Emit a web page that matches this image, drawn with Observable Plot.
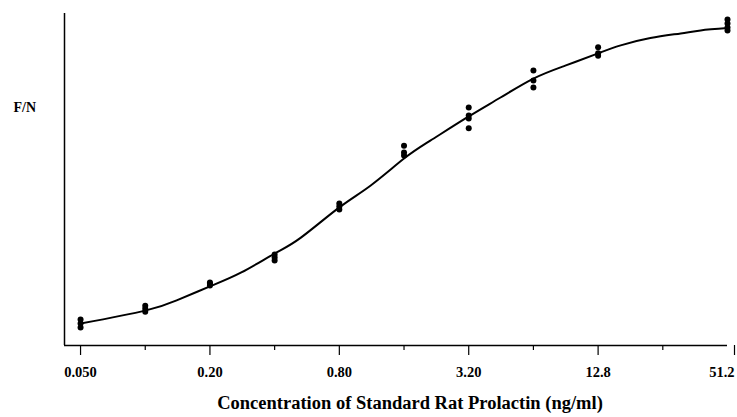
<!DOCTYPE html>
<html>
<head>
<meta charset="utf-8">
<script src="https://cdn.jsdelivr.net/npm/d3@7"></script>
<script src="https://cdn.jsdelivr.net/npm/@observablehq/plot@0.6"></script>
<style>
  html, body { margin: 0; padding: 0; background: #fff; }
  #chart { width: 737px; height: 417px; }
  #chart svg { overflow: visible; }
</style>
</head>
<body>
<div id="chart"></div>
<script>
// Replicate measurements (concentration ng/ml, F/N in arbitrary units)
const pointConc = [0.05, 0.05, 0.05, 0.1, 0.1, 0.1, 0.2, 0.2, 0.2, 0.4, 0.4, 0.4,
  0.8, 0.8, 0.8, 1.6, 1.6, 1.6, 3.2, 3.2, 3.2, 3.2, 6.4, 6.4, 6.4,
  12.8, 12.8, 12.8, 51.2, 51.2, 51.2, 51.2];
const pointFN = [7.8, 6.6, 5.4, 12.0, 11.1, 10.2, 19.0, 18.6, 18.1, 27.4, 26.5, 25.6,
  42.8, 41.9, 41.0, 60.2, 58.1, 57.2, 71.7, 69.3, 68.4, 65.4, 82.8, 79.8, 77.7,
  89.8, 88.0, 87.3, 98.2, 97.0, 95.8, 94.9];

// Fitted standard curve
const curveConc = [0.05, 0.1, 0.14, 0.2, 0.28, 0.4, 0.53, 0.8, 1.12, 1.6, 2.12,
  3.2, 4.5, 6.4, 9.0, 12.8, 16.3, 22.4, 31, 38.4, 51.2];
const curveFN = [6.6, 10.5, 13.6, 17.8, 22.0, 27.7, 32.5, 41.6, 48.2, 56.3, 61.7,
  69.0, 74.7, 80.4, 84.3, 88.0, 90.4, 92.6, 94.0, 94.9, 95.6];

// Axis ticks
const majorTicks = [0.05, 0.2, 0.8, 3.2, 12.8, 51.2];
const majorLabels = ["0.050", "0.20", "0.80", "3.20", "12.8", "51.2"];
const minorTicks = [0.1, 0.4, 1.6, 6.4, 25.6];

const xDomain = [0.0421, 51.2];
const yDomain = [0, 100];

const points = pointConc.map((c, i) => ({c, v: pointFN[i]}));
const curve = curveConc.map((c, i) => ({c, v: curveFN[i]}));
const labelOf = (d) => majorLabels[majorTicks.indexOf(d)];
const axisFont = {fontSize: 14.5, fontWeight: "bold", fill: "#000", label: null, tickPadding: 11, strokeWidth: 1.2};

const chart = Plot.plot({
  width: 737,
  height: 417,
  marginLeft: 64,
  marginRight: 10,
  marginTop: 13,
  marginBottom: 72,
  style: {fontFamily: "'Liberation Serif', 'Times New Roman', serif", color: "#000", background: "#fff"},
  x: {type: "log", base: 2, domain: xDomain, axis: null},
  y: {domain: yDomain, axis: null},
  marks: [
    Plot.ruleY([yDomain[0]], {stroke: "#000", strokeWidth: 1.5}),
    Plot.ruleX([xDomain[0]], {stroke: "#000", strokeWidth: 1.5}),
    Plot.axisX({ticks: minorTicks, tickSize: 5, tickFormat: () => "", label: null, stroke: "#000", strokeWidth: 1.2}),
    Plot.axisX({ticks: majorTicks.slice(0, -1), tickSize: 10, tickFormat: labelOf, ...axisFont}),
    Plot.axisX({ticks: majorTicks.slice(-1), tickSize: 10, tickFormat: labelOf, ...axisFont, textAnchor: "end", dx: 7}),
    Plot.line(curve, {x: "c", y: "v", curve: "natural", stroke: "#000", strokeWidth: 2}),
    Plot.dot(points, {x: "c", y: "v", r: 3, fill: "#000", stroke: "none"}),
    Plot.text(["Concentration of Standard Rat Prolactin (ng/ml)"], {
      frameAnchor: "bottom", dy: 63, dx: 14, fontSize: 18.5, fontWeight: "bold", fill: "#000"}),
    Plot.text(["F/N"], {frameAnchor: "top-left", dx: -51, dy: 89, textAnchor: "start",
      fontSize: 14, fontWeight: "bold", fill: "#000"})
  ]
});
document.getElementById("chart").appendChild(chart);
</script>
</body>
</html>
